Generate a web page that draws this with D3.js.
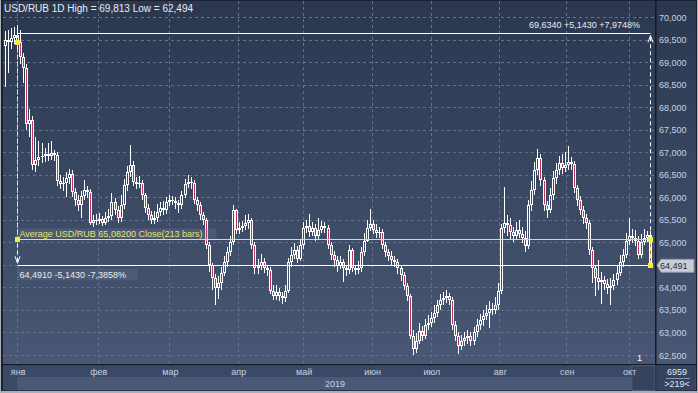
<!DOCTYPE html>
<html>
<head>
<meta charset="utf-8">
<script src="https://cdn.jsdelivr.net/npm/d3@7"></script>
<style>
  html, body { margin: 0; padding: 0; background: #a9aeb8; }
  svg { display: block; font-family: "Liberation Sans", Arial, sans-serif; }
  .lbl { font-size: 9px; }
  .ttl { font-size: 10px; }
</style>
</head>
<body>
<script>
// daily USD/RUB bars (213 bars)
var opens = [
  69.35,69.49,69.44,69.53,69.60,69.45,69.11,68.87,67.62,67.71,
  66.71,66.82,66.89,66.91,66.96,66.91,66.98,66.93,66.36,66.29,
  66.31,66.42,66.51,66.11,65.93,65.82,66.02,66.16,66.11,65.44,
  65.49,65.47,65.51,65.44,65.53,65.58,65.89,65.71,65.53,65.82,
  66.27,66.56,66.71,66.33,66.29,66.31,66.04,65.76,65.60,65.49,
  65.53,65.67,65.76,65.71,65.89,65.93,65.91,65.87,65.82,66.04,
  66.29,66.33,66.31,65.93,65.82,65.60,65.49,64.93,64.49,64.20,
  63.98,64.09,64.33,64.56,64.78,65.00,65.71,65.27,65.31,65.36,
  65.44,65.49,64.93,64.42,64.47,64.56,64.42,64.38,63.93,63.82,
  63.89,63.80,63.76,63.93,64.56,64.71,64.82,64.64,64.93,65.31,
  65.36,65.22,65.31,65.13,65.27,65.36,65.31,64.93,64.71,64.60,
  64.47,64.56,64.42,64.38,64.82,64.42,64.38,64.42,64.78,65.04,
  65.31,65.40,65.27,65.20,65.22,64.93,64.78,64.69,64.60,64.56,
  64.42,64.27,64.04,63.80,62.93,62.64,62.82,63.04,62.93,63.16,
  63.22,63.31,63.44,63.60,63.71,63.76,63.80,63.71,63.16,62.93,
  62.71,62.82,62.87,62.93,62.82,63.00,63.16,63.27,63.36,63.44,
  63.53,63.49,63.60,63.93,65.31,65.44,65.38,65.22,65.13,65.27,
  65.18,65.09,64.91,65.82,66.16,66.60,66.87,66.38,65.82,65.71,
  66.04,66.42,66.60,66.76,66.64,66.71,66.78,66.73,66.20,65.93,
  65.71,65.53,65.44,64.82,64.42,64.20,64.11,64.16,64.07,63.98,
  64.04,64.16,64.33,64.56,64.71,65.04,65.13,65.09,65.04,64.71,
  65.00,65.09,65.16
];
var highs = [
  69.70,69.72,69.75,69.78,69.813,69.72,69.20,68.95,67.95,67.80,
  67.33,67.25,67.20,67.10,67.20,67.25,67.05,67.00,66.50,66.45,
  66.55,66.62,66.60,66.20,66.05,66.15,66.38,66.25,66.18,65.60,
  65.62,65.65,65.58,65.68,65.75,66.10,65.98,65.80,66.05,66.40,
  66.70,67.16,66.80,66.45,66.48,66.38,66.10,65.85,65.70,65.70,
  65.85,65.90,65.92,66.00,66.05,66.02,66.00,65.95,66.15,66.40,
  66.49,66.45,66.38,66.00,65.90,65.68,65.55,65.00,64.55,64.30,
  64.25,64.45,64.70,64.90,65.15,65.82,65.75,65.45,65.48,65.60,
  65.62,65.55,65.00,64.62,64.75,64.65,64.50,64.45,64.05,64.05,
  63.98,63.90,64.05,64.65,64.90,64.98,64.92,65.05,65.45,65.50,
  65.62,65.45,65.40,65.55,65.48,65.45,65.38,65.00,64.80,64.70,
  64.70,64.62,64.50,64.95,64.88,64.50,64.58,64.90,65.20,65.50,
  65.73,65.50,65.40,65.35,65.30,65.00,64.85,64.80,64.70,64.62,
  64.50,64.35,64.10,63.85,63.05,62.98,63.20,63.15,63.30,63.38,
  63.45,63.60,63.72,63.85,63.90,63.95,63.88,63.78,63.25,63.00,
  62.95,63.00,63.05,63.00,63.12,63.30,63.42,63.50,63.62,63.70,
  63.65,63.78,64.10,65.40,66.22,65.60,65.55,65.35,65.45,65.50,
  65.35,65.25,65.95,66.35,66.78,67.07,66.95,66.45,65.92,66.20,
  66.58,66.75,66.92,66.95,67.00,67.13,66.90,66.80,66.28,66.02,
  65.80,65.62,65.50,64.90,64.50,64.60,64.35,64.25,64.18,64.20,
  64.30,64.50,64.72,64.85,65.20,65.53,65.30,65.28,65.15,65.18,
  65.30,65.25,65.25
];
var lows = [
  68.45,68.75,69.30,69.40,69.30,68.95,68.53,67.50,67.33,66.60,
  66.55,66.70,66.75,66.78,66.80,66.82,66.80,66.25,66.18,66.15,
  66.00,66.30,66.00,65.80,65.70,65.55,65.95,65.98,65.38,65.35,
  65.38,65.40,65.36,65.38,65.45,65.50,65.60,65.42,65.45,65.75,
  66.15,66.45,66.25,66.18,66.20,65.95,65.65,65.50,65.40,65.40,
  65.45,65.58,65.60,65.62,65.80,65.82,65.75,65.65,65.75,65.98,
  66.20,66.18,65.85,65.70,65.50,65.38,64.85,64.35,63.95,63.60,
  63.75,63.95,64.25,64.45,64.70,64.95,65.18,65.18,65.22,65.28,
  65.30,64.85,64.30,64.30,64.38,64.33,64.25,63.85,63.72,63.72,
  63.70,63.64,63.68,63.88,64.45,64.62,64.55,64.58,64.85,65.20,
  65.12,65.15,65.02,65.05,65.20,65.20,64.85,64.60,64.45,64.35,
  64.40,64.11,64.25,64.30,64.35,64.28,64.30,64.35,64.70,65.00,
  65.25,65.18,65.10,65.10,64.85,64.68,64.58,64.50,64.45,64.30,
  64.15,63.95,63.70,62.85,62.494,62.55,62.75,62.82,62.85,63.05,
  63.12,63.22,63.35,63.50,63.62,63.65,63.60,63.05,62.80,62.53,
  62.60,62.70,62.75,62.70,62.72,62.90,63.05,63.15,63.28,63.10,
  63.38,63.40,63.50,63.85,65.20,65.15,65.05,65.00,65.05,65.10,
  64.98,64.78,64.85,65.70,66.05,66.50,66.25,65.70,65.55,65.65,
  65.95,66.30,66.50,66.52,66.55,66.60,66.60,66.10,65.80,65.60,
  65.40,65.30,64.72,64.10,63.80,63.95,63.64,63.95,63.85,63.60,
  63.95,64.05,64.25,64.45,64.65,64.95,64.98,64.92,64.62,64.65,
  64.95,65.00,64.45
];
var closes = [
  69.49,69.44,69.53,69.60,69.45,69.11,68.87,67.62,67.71,66.71,
  66.82,66.89,66.91,66.96,66.91,66.98,66.93,66.36,66.29,66.31,
  66.42,66.51,66.11,65.93,65.82,66.02,66.16,66.11,65.44,65.49,
  65.47,65.51,65.44,65.53,65.58,65.89,65.71,65.53,65.82,66.27,
  66.56,66.71,66.33,66.29,66.31,66.04,65.76,65.60,65.49,65.53,
  65.67,65.76,65.71,65.89,65.93,65.91,65.87,65.82,66.04,66.29,
  66.33,66.31,65.93,65.82,65.60,65.49,64.93,64.49,64.20,63.98,
  64.09,64.33,64.56,64.78,65.00,65.71,65.27,65.31,65.36,65.44,
  65.49,64.93,64.42,64.47,64.56,64.42,64.38,63.93,63.82,63.89,
  63.80,63.76,63.93,64.56,64.71,64.82,64.64,64.93,65.31,65.36,
  65.22,65.31,65.13,65.27,65.36,65.31,64.93,64.71,64.60,64.47,
  64.56,64.42,64.38,64.82,64.42,64.38,64.42,64.78,65.04,65.31,
  65.40,65.27,65.20,65.22,64.93,64.78,64.69,64.60,64.56,64.42,
  64.27,64.04,63.80,62.93,62.64,62.82,63.04,62.93,63.16,63.22,
  63.31,63.44,63.60,63.71,63.76,63.80,63.71,63.16,62.93,62.71,
  62.82,62.87,62.93,62.82,63.00,63.16,63.27,63.36,63.44,63.53,
  63.49,63.60,63.93,65.31,65.44,65.38,65.22,65.13,65.27,65.18,
  65.09,64.91,65.82,66.16,66.60,66.87,66.38,65.82,65.71,66.04,
  66.42,66.60,66.76,66.64,66.71,66.78,66.73,66.20,65.93,65.71,
  65.53,65.44,64.82,64.42,64.20,64.11,64.16,64.07,63.98,64.04,
  64.16,64.33,64.56,64.71,65.04,65.13,65.09,65.04,64.71,65.00,
  65.09,65.16,64.491
];

// month boundaries, as bar positions
var months = ['янв','фев','мар','апр','май','июн','июл','авг','сен','окт'];
var monthBars = [4, 30.5, 54, 76.5, 98, 120.5, 140, 162.5, 184.5, 205];
var yTicks = [62.5,63,63.5,64,64.5,65,65.5,66,66.5,67,67.5,68,68.5,69,69.5,70];
var year = '2019';

// drawing tools on the chart
var avgClose = 65.082;
var measureTop = 69.634;
var toolStart = 4;             // bar where both tools start
var footer = ['6959', '>219<'];

var W = 698, H = 393;
var plotR = 655, plotB = 364;

var ru = d3.formatLocale({decimal: ',', thousands: ' ', grouping: [3], currency: ['', '']});
var f3 = ru.format('.3f'), f4 = ru.format('.4f'), f5 = ru.format('.5f');

var x = d3.scaleLinear().domain([0, closes.length - 1]).range([5, 650]);
var y = d3.scaleLinear().domain([62.5, 70]).range([355, 17]);

var svg = d3.select('body').append('svg')
  .attr('width', W).attr('height', H);

var defs = svg.append('defs');
var grad = defs.append('linearGradient')
  .attr('id', 'bg')
  .attr('gradientUnits', 'userSpaceOnUse')
  .attr('x1', 0).attr('y1', 0).attr('x2', 0).attr('y2', 392);
grad.append('stop').attr('offset', 0).attr('stop-color', '#2a374f');
grad.append('stop').attr('offset', 1).attr('stop-color', '#4b5a77');

defs.append('clipPath').attr('id', 'plotclip')
  .append('rect').attr('x', 3).attr('y', 1).attr('width', plotR - 3).attr('height', plotB - 1);

// frame + background
svg.append('rect').attr('x', 0).attr('y', 0).attr('width', W).attr('height', H).attr('fill', '#aab0ba');
svg.append('rect').attr('x', 1).attr('y', 0).attr('width', W - 2).attr('height', 391).attr('fill', '#1b2232');
svg.append('rect').attr('x', 3).attr('y', 1).attr('width', W - 5).attr('height', 389).attr('fill', 'url(#bg)');

// gridlines
var grid = svg.append('g').attr('clip-path', 'url(#plotclip)')
  .attr('stroke', '#62728c').attr('stroke-dasharray', '3,3').attr('shape-rendering', 'crispEdges');

grid.selectAll('line.h')
  .data(yTicks)
  .enter()
    .append('line')
    .attr('class', 'h')
    .attr('x1', 3).attr('x2', plotR)
    .attr('y1', function(d) { return Math.round(y(d)) + 0.5; })
    .attr('y2', function(d) { return Math.round(y(d)) + 0.5; });

grid.selectAll('line.v')
  .data(monthBars)
  .enter()
    .append('line')
    .attr('class', 'v')
    .attr('y1', 1).attr('y2', plotB)
    .attr('x1', function(d) { return Math.round(x(d)) + 0.5; })
    .attr('x2', function(d) { return Math.round(x(d)) + 0.5; });

// candles
var bars = d3.range(closes.length).map(function(i) {
  return {i: i, o: opens[i], h: highs[i], l: lows[i], c: closes[i]};
});

var candles = svg.append('g').attr('clip-path', 'url(#plotclip)').attr('shape-rendering', 'crispEdges');

var cg = candles.selectAll('g.candle')
  .data(bars)
  .enter()
    .append('g')
    .attr('class', 'candle');

cg.append('rect')
  .attr('fill', '#ffffff')
  .attr('x', function(d) { return Math.round(x(d.i)); })
  .attr('width', 1)
  .attr('y', function(d) { return Math.round(y(d.h)); })
  .attr('height', function(d) { return Math.max(1, Math.round(y(d.l)) - Math.round(y(d.h))); });

cg.append('rect')
  .attr('fill', '#ffffff')
  .attr('x', function(d) { return Math.round(x(d.i)) - 1; })
  .attr('width', 3)
  .attr('y', function(d) { return Math.round(y(Math.max(d.o, d.c))); })
  .attr('height', function(d) {
    return Math.max(1, Math.round(y(Math.min(d.o, d.c))) - Math.round(y(Math.max(d.o, d.c))));
  });

cg.filter(function(d) {
    return Math.round(y(Math.min(d.o, d.c))) - Math.round(y(Math.max(d.o, d.c))) > 2;
  })
  .append('rect')
  .attr('fill', function(d) { return d.c < d.o ? '#c2345a' : 'url(#bg)'; })
  .attr('x', function(d) { return Math.round(x(d.i)); })
  .attr('width', 1)
  .attr('y', function(d) { return Math.round(y(Math.max(d.o, d.c))) + 1; })
  .attr('height', function(d) {
    return Math.round(y(Math.min(d.o, d.c))) - Math.round(y(Math.max(d.o, d.c))) - 2;
  });

// tools
var last = closes.length - 1;
var lastClose = closes[last];
var xs = Math.round(x(toolStart)) + 0.5, xe = Math.round(x(last)) + 0.5;
var tools = svg.append('g');

// measuring tool (white)
tools.selectAll('line.meas')
  .data([measureTop, lastClose])
  .enter()
    .append('line')
    .attr('class', 'meas')
    .attr('stroke', '#ffffff').attr('stroke-width', 1.2)
    .attr('x1', xs).attr('x2', xe)
    .attr('y1', function(d) { return Math.round(y(d)) + 0.5; })
    .attr('y2', function(d) { return Math.round(y(d)) + 0.5; });

tools.append('line')
  .attr('stroke', '#ffffff').attr('stroke-dasharray', '4,3')
  .attr('x1', xe).attr('x2', xe).attr('y1', y(lastClose)).attr('y2', y(measureTop) + 3);
tools.append('path')
  .attr('fill', 'none').attr('stroke', '#ffffff')
  .attr('d', 'M' + (xe - 2.5) + ',' + (y(measureTop) + 9) + 'L' + xe + ',' + (y(measureTop) + 2) + 'L' + (xe + 2.5) + ',' + (y(measureTop) + 9));

tools.append('line')
  .attr('stroke', '#ffffff').attr('stroke-dasharray', '4,3')
  .attr('x1', xs).attr('x2', xs).attr('y1', y(measureTop)).attr('y2', y(lastClose) - 3);
tools.append('path')
  .attr('fill', 'none').attr('stroke', '#ffffff')
  .attr('d', 'M' + (xs - 2.5) + ',' + (y(lastClose) - 9) + 'L' + xs + ',' + (y(lastClose) - 2) + 'L' + (xs + 2.5) + ',' + (y(lastClose) - 9));

var diff = measureTop - lastClose;
tools.append('text')
  .attr('class', 'lbl')
  .attr('x', 640).attr('y', y(measureTop) - 5)
  .attr('text-anchor', 'end').attr('fill', '#e8ecf2')
  .text(f4(measureTop) + ' +' + f4(diff) + ' +' + f4(diff / lastClose * 100) + '%');

tools.append('rect')
  .attr('x', xs - 0.5).attr('y', y(lastClose) + 3).attr('width', 121).attr('height', 12)
  .attr('fill', '#56647e').attr('opacity', 0.55);
tools.append('text')
  .attr('class', 'lbl')
  .attr('x', xs + 2).attr('y', y(lastClose) + 12.5)
  .attr('fill', '#e8ecf2')
  .text(f4(lastClose) + ' -' + f4(diff) + ' -' + f4(diff / measureTop * 100) + '%');

// average-close tool (yellow)
var ya = Math.round(y(avgClose)) + 0.5;
tools.append('line')
  .attr('stroke', '#f2f000').attr('stroke-width', 1.2)
  .attr('x1', xs).attr('x2', xe).attr('y1', ya).attr('y2', ya);
tools.append('line')
  .attr('stroke', '#e8e860').attr('stroke-dasharray', '4,3')
  .attr('x1', xs).attr('x2', xs).attr('y1', y(closes[toolStart])).attr('y2', ya);
tools.append('line')
  .attr('stroke', '#e8e860').attr('stroke-dasharray', '4,3')
  .attr('x1', xe).attr('x2', xe).attr('y1', ya).attr('y2', y(lastClose));

tools.append('rect')
  .attr('x', xs + 1).attr('y', ya - 11).attr('width', 198).attr('height', 10)
  .attr('fill', '#6c7488').attr('opacity', 0.35);
tools.append('text')
  .attr('class', 'lbl')
  .attr('x', xs + 2).attr('y', ya - 2.5)
  .attr('fill', '#e6e46a')
  .text('Average USD/RUB ' + f5(avgClose) + ' Close(' + closes.length + ' bars)');

tools.selectAll('rect.anchor')
  .data([[toolStart, closes[toolStart]], [toolStart, avgClose], [last, avgClose], [last, lastClose]])
  .enter()
    .append('rect')
    .attr('class', 'anchor')
    .attr('fill', '#f4ee3a')
    .attr('x', function(d) { return Math.round(x(d[0])) - 2; })
    .attr('y', function(d) { return Math.round(y(d[1])) - 2; })
    .attr('width', 5).attr('height', 5);

// title
svg.append('text')
  .attr('class', 'ttl')
  .attr('x', 4).attr('y', 11.5)
  .attr('fill', '#e8ecf2')
  .text('USD/RUB 1D High = ' + f3(d3.max(highs)) + ' Low = ' + f3(d3.min(lows)));

svg.append('text')
  .attr('class', 'lbl')
  .attr('x', 637).attr('y', 361)
  .attr('fill', '#ffffff')
  .text('1');

// right price axis
svg.append('rect').attr('x', plotR).attr('y', 0).attr('width', 1.5).attr('height', 391).attr('fill', '#141a28');

svg.selectAll('text.ytick')
  .data(yTicks)
  .enter()
    .append('text')
    .attr('class', 'lbl ytick')
    .attr('x', 659)
    .attr('y', function(d) { return y(d) + 3.5; })
    .attr('fill', '#c6d2e2')
    .text(function(d) { return f3(d); });

var yl = y(lastClose);
svg.append('path')
  .attr('fill', '#c9cdd5').attr('stroke', '#8e96a6')
  .attr('d', 'M657,' + yl + 'L661,' + (yl - 6) + 'L694,' + (yl - 6) + 'L694,' + (yl + 7) + 'L661,' + (yl + 7) + 'Z');
svg.append('text')
  .attr('class', 'lbl')
  .attr('x', 660).attr('y', yl + 4)
  .attr('fill', '#1e2a44')
  .text(f3(lastClose));

// bottom time axis
svg.append('rect').attr('x', 1).attr('y', plotB).attr('width', W - 2).attr('height', 1.5).attr('fill', '#141a28');
svg.append('rect').attr('x', 3).attr('y', plotB + 1.5).attr('width', plotR - 3).attr('height', 25).attr('fill', '#3b4966');
svg.append('rect').attr('x', 17).attr('y', 377).attr('width', 615).attr('height', 13).attr('fill', '#4a5a76');
svg.append('rect').attr('x', 632).attr('y', plotB + 1.5).attr('width', plotR - 632).attr('height', 25)
  .attr('fill', '#35435f').attr('stroke', '#4d5b77');

svg.selectAll('text.month')
  .data(months)
  .enter()
    .append('text')
    .attr('class', 'lbl month')
    .attr('text-anchor', 'middle')
    .attr('x', function(d, i) { return x(monthBars[i]) + 1; })
    .attr('y', 375)
    .attr('fill', '#c6d2e2')
    .text(function(d) { return d; });

svg.append('text')
  .attr('class', 'lbl')
  .attr('text-anchor', 'middle')
  .attr('x', 335).attr('y', 387)
  .attr('fill', '#c6d2e2')
  .text(year);

// bottom-right counter box
svg.append('rect').attr('x', plotR + 1.5).attr('y', plotB + 1.5).attr('width', W - plotR - 4).attr('height', 25).attr('fill', '#35435f');
svg.append('line').attr('x1', 666).attr('x2', 690).attr('y1', 378.5).attr('y2', 378.5).attr('stroke', '#8a96aa');
svg.selectAll('text.foot')
  .data(footer)
  .enter()
    .append('text')
    .attr('class', 'lbl foot')
    .attr('text-anchor', 'middle')
    .attr('x', 677)
    .attr('y', function(d, i) { return 375 + i * 12; })
    .attr('fill', '#dfe6f0')
    .text(function(d) { return d; });
</script>
</body>
</html>
